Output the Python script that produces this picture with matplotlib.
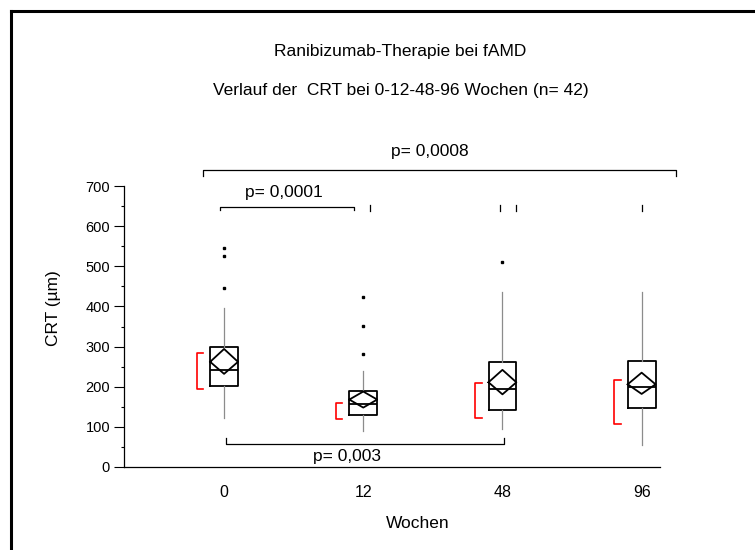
import matplotlib
matplotlib.use("Agg")
import matplotlib.pyplot as plt
from matplotlib.lines import Line2D

plt.rcParams['font.family'] = ['Liberation Sans', 'DejaVu Sans']

# Daten
wochen = ['0', '12', '48', '96']
q1 = [202, 130, 143, 146]
median = [242, 157, 194, 199]
q3 = [300, 190, 261, 264]
whisker_lo = [123, 90, 94, 56]
whisker_hi = [397, 239, 437, 437]
mittelwert = [262, 168, 211, 206]
ci_lo = [232, 148, 181, 182]
ci_hi = [294, 188, 242, 235]
ausreisser = [[545, 526, 445], [424, 351, 281], [511], []]
kurz_lo = [194, 120, 123, 108]   # rote Klammer
kurz_hi = [285, 160, 210, 217]

fig = plt.figure(figsize=(7.55, 5.5), dpi=100)
ax = fig.add_axes([124 / 755, 83 / 550, 536 / 755, 281 / 550])

pos = list(range(len(wochen)))
breite = 0.2

stats = []
for i in pos:
    stats.append({'med': median[i], 'q1': q1[i], 'q3': q3[i],
                  'whislo': whisker_lo[i], 'whishi': whisker_hi[i],
                  'fliers': ausreisser[i]})

ax.bxp(stats, positions=pos, widths=breite, showcaps=False,
       boxprops=dict(color='black', linewidth=1.3),
       medianprops=dict(color='black', linewidth=1.3),
       whiskerprops=dict(color='#8c8c8c', linewidth=0.9),
       flierprops=dict(marker='s', markersize=1.7, markerfacecolor='black',
                       markeredgecolor='black', linestyle='none'))

# Mittelwert-Rauten
for i in pos:
    xs = [i - breite / 2, i, i + breite / 2, i, i - breite / 2]
    ys = [mittelwert[i], ci_hi[i], mittelwert[i], ci_lo[i], mittelwert[i]]
    ax.plot(xs, ys, color='black', linewidth=1.3, zorder=4)

# rote Klammern
for i in pos:
    x0 = i - 0.195
    ax.plot([x0 + 0.045, x0, x0, x0 + 0.045], [kurz_hi[i], kurz_hi[i], kurz_lo[i], kurz_lo[i]],
            color='red', linewidth=1.2)

# Signifikanz-Klammern
ax.plot([-0.03, -0.03, 0.93, 0.93], [639, 647, 647, 639], color='black', linewidth=0.9)
ax.text(0.43, 685, 'p= 0,0001', ha='center', va='center', fontsize=12.5)

ax.plot([0.012, 0.012, 2.014, 2.014], [72, 57, 57, 72], color='black', linewidth=0.9)
ax.text(0.885, 27, 'p= 0,003', ha='center', va='center', fontsize=12.5)

ax.plot([-0.154, -0.154, 3.25, 3.25], [726, 740, 740, 726], color='black',
        linewidth=0.9, clip_on=False)
ax.text(1.48, 787, 'p= 0,0008', ha='center', va='center', fontsize=12.5, clip_on=False)

# kleine Striche oben
for xm in [1.05, 1.98, 2.10, 3.0]:
    ax.plot([xm, xm], [637, 652], color='black', linewidth=0.9)

ax.set_xlim(-0.719, 3.132)
ax.set_ylim(0, 700)
ax.set_xticks(pos)
ax.set_xticklabels(wochen, fontsize=11.5)
ax.set_yticks(range(0, 701, 100))
ax.set_yticks(range(50, 700, 100), minor=True)
ax.tick_params(axis='x', length=0, pad=13)
ax.tick_params(axis='y', which='major', length=7, width=0.8, pad=3, labelsize=10.5)
ax.tick_params(axis='y', which='minor', length=2.5, width=0.8)
for s in ['top', 'right']:
    ax.spines[s].set_visible(False)
for s in ['left', 'bottom']:
    ax.spines[s].set_linewidth(0.9)

fig.text(53 / 755, 1 - 308 / 550, 'CRT (µm)', rotation=90, ha='center', va='center', fontsize=12.5)
fig.text(418 / 755, 1 - 523 / 550, 'Wochen', ha='center', va='center', fontsize=12.5)
fig.text(400 / 755, 1 - 52 / 550, 'Ranibizumab-Therapie bei fAMD', ha='center', va='center', fontsize=12.5)
fig.text(401 / 755, 1 - 90.5 / 550, 'Verlauf der  CRT bei 0-12-48-96 Wochen (n= 42)',
         ha='center', va='center', fontsize=12.5)

# Rahmen
fig.add_artist(Line2D([11 / 755, 1], [1 - 11 / 550, 1 - 11 / 550], color='black', linewidth=2.2))
fig.add_artist(Line2D([11 / 755, 11 / 755], [0, 1 - 11 / 550], color='black', linewidth=2.2))

fig.savefig('out.png', dpi=100)
